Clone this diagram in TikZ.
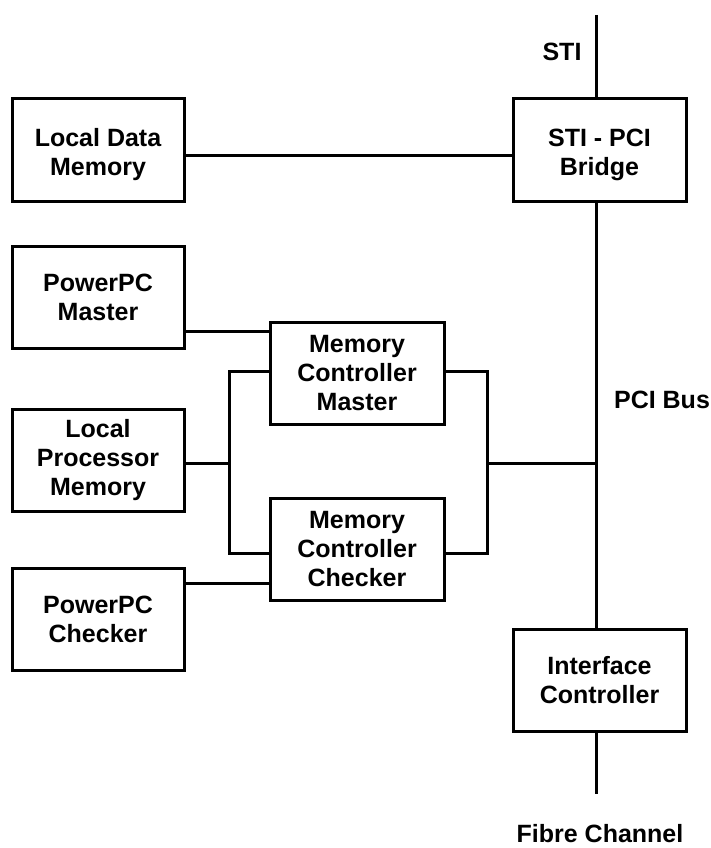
\documentclass[tikz,border=0pt]{standalone}
\usepackage{fontspec}
\setmainfont{Liberation Sans}
\newcommand{\lowtext}[1]{\raisebox{-5pt}[\height][\depth]{\begin{tabular}{@{}c@{}}#1\end{tabular}}}
\begin{document}
\begin{tikzpicture}[x=1pt,y=-1pt,
  box/.style={draw,line width=3pt,fill=white,minimum height=102pt,inner sep=0pt,align=center,font=\fontsize{25}{29}\selectfont\bfseries},
  lbl/.style={inner sep=0pt,font=\fontsize{25}{29}\selectfont\bfseries},
  wire/.style={line width=3pt}]
\useasboundingbox (0,0) rectangle (711,848);
\node[box,minimum width=172pt] (ldm) at (98,150) {\lowtext{Local Data\\Memory}};
\node[box,minimum width=172pt] (ppm) at (98,297) {PowerPC\\Master};
\node[box,minimum width=172pt] (lpm) at (98,460) {Local\\Processor\\Memory};
\node[box,minimum width=172pt] (ppc) at (98,619.5) {PowerPC\\Checker};
\node[box,minimum width=174pt] (mcm) at (357,373) {Memory\\Controller\\Master};
\node[box,minimum width=174pt] (mcc) at (357,549.5) {Memory\\Controller\\Checker};
\node[box,minimum width=173pt] (br) at (599.5,150) {\lowtext{STI - PCI\\Bridge}};
\node[box,minimum width=173pt] (ic) at (599.5,680) {Interface\\Controller};
\node[lbl] (sti) at (562,52) {STI};
\node[lbl] (pci) at (662,400) {PCI Bus};
\node[lbl] (fc) at (600,834) {Fibre Channel};
\coordinate (bt) at (596,15);
\coordinate (bb) at (596,794);
\coordinate (jl) at (229,463);
\coordinate (jr) at (487,463);
% bus
\draw[wire] (bt) -- (bt |- br.north);
\draw[wire] (bt |- br.south) -- (bt |- ic.north);
\draw[wire] (bt |- ic.south) -- (bb);
% connections
\draw[wire] (ldm.east |- 0,155) -- (br.west |- 0,155);
\draw[wire] (ppm.east |- 0,331) -- (mcm.west |- 0,331);
\draw[wire] (lpm.east |- jl) -- (jl);
\draw[wire] (mcm.west |- 0,371) -- (jl |- 0,371) -- (jl |- 0,553) -- (mcc.west |- 0,553);
\draw[wire] (ppc.east |- 0,583) -- (mcc.west |- 0,583);
\draw[wire] (mcm.east |- 0,371) -- (jr |- 0,371) -- (jr |- 0,553) -- (mcc.east |- 0,553);
\draw[wire] (jr) -- (bt |- jr);
\end{tikzpicture}
\end{document}
